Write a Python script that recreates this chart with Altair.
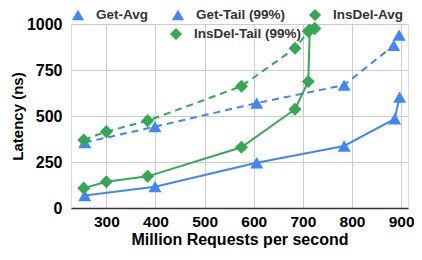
import altair as alt
import pandas as pd

# Data
get_avg_x = [256, 399, 606, 784, 887, 897]
get_avg_y = [68, 116, 246, 337, 485, 603]
get_tail_x = [256, 399, 606, 784, 885, 896]
get_tail_y = [356, 442, 570, 668, 884, 940]
insdel_avg_x = [254, 300, 384, 575, 684, 711, 714, 724]
insdel_avg_y = [108, 143, 172, 330, 537, 688, 967, 976]
insdel_tail_x = [254, 300, 384, 575, 684, 711, 724]
insdel_tail_y = [370, 415, 474, 662, 868, 960, 976]

series_names = ["Get-Avg", "Get-Tail (99%)", "InsDel-Avg", "InsDel-Tail (99%)"]
x_ticks = [300, 400, 500, 600, 700, 800, 900]
y_ticks = [0, 250, 500, 750, 1000]

BLUE = "#4285F4"
GREEN = "#34A853"
FONT = "Liberation Sans"

def frame(xs, ys, name):
    return pd.DataFrame({"x": xs, "y": ys, "series": name})

series = [
    (frame(get_avg_x, get_avg_y, series_names[0]), BLUE, "triangle-up", None),
    (frame(get_tail_x, get_tail_y, series_names[1]), BLUE, "triangle-up", [7, 5]),
    (frame(insdel_avg_x, insdel_avg_y, series_names[2]), GREEN, "diamond", None),
    (frame(insdel_tail_x, insdel_tail_y, series_names[3]), GREEN, "diamond", [7, 5]),
]

xscale = alt.Scale(domain=[228, 914], nice=False, zero=False)
yscale = alt.Scale(domain=[0, 1000], nice=False)

xenc = alt.X("x:Q", scale=xscale,
             axis=alt.Axis(values=x_ticks, title="Million Requests per second",
                           format="d", labelOverlap=False,
                           grid=True, gridColor="#cccccc", ticks=False,
                           domainColor="#333333", domainWidth=1.5,
                           labelFont=FONT, labelFontSize=15.5, labelFontWeight="bold",
                           labelColor="#000000", labelPadding=6,
                           titleFont=FONT, titleFontSize=16, titleFontWeight="bold",
                           titleColor="#000000", titlePadding=2))
yenc = alt.Y("y:Q", scale=yscale,
             axis=alt.Axis(values=y_ticks, title="Latency (ns)",
                           format="d", labelOverlap=False,
                           grid=True, gridColor="#cccccc", ticks=False, domain=False,
                           labelFont=FONT, labelFontSize=16, labelFontWeight="bold",
                           labelColor="#000000", labelPadding=9,
                           titleFont=FONT, titleFontSize=15, titleFontWeight="bold",
                           titleColor="#000000", titlePadding=1))

layers = []
for i, (df, color, shape, dash) in enumerate(series):
    line_kwargs = dict(color=color, strokeWidth=2)
    if dash:
        line_kwargs["strokeDash"] = dash
    enc_x = xenc if i == 0 else alt.X("x:Q", scale=xscale)
    enc_y = yenc if i == 0 else alt.Y("y:Q", scale=yscale)
    base = alt.Chart(df)
    layers.append(base.mark_line(**line_kwargs).encode(x=enc_x, y=enc_y))
    layers.append(base.mark_point(shape=shape, filled=True, color=color, size=170,
                                  opacity=1).encode(x=alt.X("x:Q", scale=xscale),
                                                     y=alt.Y("y:Q", scale=yscale)))

# Legend (manual, Google-Sheets style flow layout)
legend_items = [
    (series_names[0], BLUE, "triangle-up", 7, -9),
    (series_names[1], BLUE, "triangle-up", 107, -9),
    (series_names[2], GREEN, "diamond", 244, -9),
    (series_names[3], GREEN, "diamond", 105, 10),
]
for name, color, shape, lx, ly in legend_items:
    ldf = pd.DataFrame({"label": [name]})
    layers.append(alt.Chart(ldf).mark_point(shape=shape, filled=True, color=color,
                                            size=150, opacity=1)
                  .encode(x=alt.value(lx), y=alt.value(ly)))
    layers.append(alt.Chart(ldf).mark_text(align="left", baseline="middle", font=FONT,
                                           fontSize=13.5, fontWeight="bold",
                                           color="#333333")
                  .encode(x=alt.value(lx + 18), y=alt.value(ly), text="label:N"))

chart = alt.layer(*layers).properties(
    width=337, height=184,
    autosize=alt.AutoSizeParams(type="none"),
    padding={"left": 63, "top": 16, "right": 6, "bottom": 40},
).configure_view(stroke=None).configure(background="white")

chart.save("out.html", embed_options={"renderer": "svg", "actions": False})
